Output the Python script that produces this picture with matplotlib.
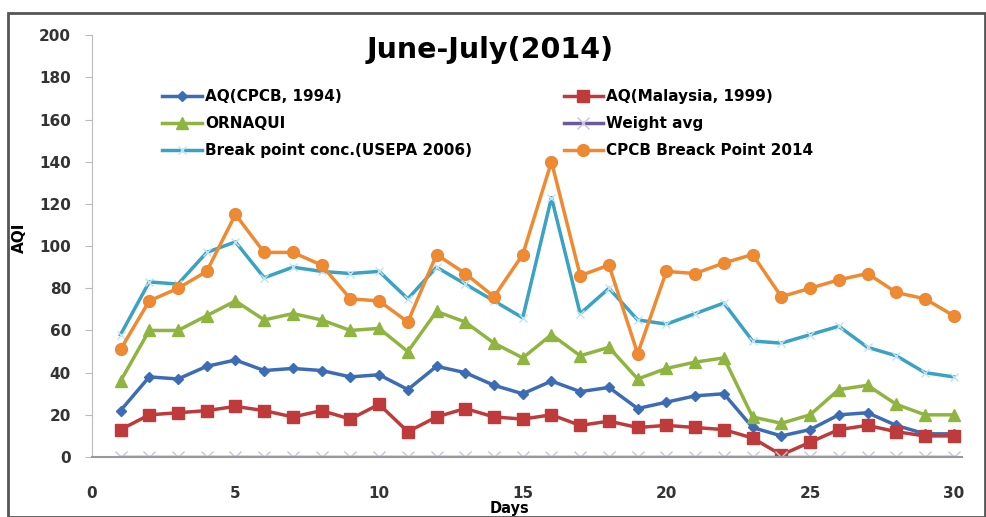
import numpy as np
import matplotlib.pyplot as plt
from matplotlib.patches import Rectangle

days = np.arange(1, 31)

aq_cpcb = [22, 38, 37, 43, 46, 41, 42, 41, 38, 39, 32, 43, 40, 34, 30,
           36, 31, 33, 23, 26, 29, 30, 14, 10, 13, 20, 21, 15, 11, 11]
aq_malaysia = [13, 20, 21, 22, 24, 22, 19, 22, 18, 25, 12, 19, 23, 19, 18,
               20, 15, 17, 14, 15, 14, 13, 9, 1, 7, 13, 15, 12, 10, 10]
ornaqui = [36, 60, 60, 67, 74, 65, 68, 65, 60, 61, 50, 69, 64, 54, 47,
           58, 48, 52, 37, 42, 45, 47, 19, 16, 20, 32, 34, 25, 20, 20]
weight_avg = [0] * 30
usepa = [58, 83, 82, 97, 102, 85, 90, 88, 87, 88, 75, 90, 82, 74, 66,
         123, 68, 80, 65, 63, 68, 73, 55, 54, 58, 62, 52, 48, 40, 38]
cpcb_2014 = [51, 74, 80, 88, 115, 97, 97, 91, 75, 74, 64, 96, 87, 76, 96,
             140, 86, 91, 49, 88, 87, 92, 96, 76, 80, 84, 87, 78, 75, 67]

fig = plt.figure(figsize=(9.87, 5.17), dpi=100)
ax = fig.add_axes([0.093, 0.116, 0.882, 0.816])

# outer frame like the scanned figure
fig.patches.append(Rectangle((0.008, 0.0), 0.99, 0.975, transform=fig.transFigure,
                             fill=False, edgecolor='#555555', lw=2))

l1, = ax.plot(days, aq_cpcb, color='#3b6cb4', marker='D', markersize=5.5, lw=2.5,
              label='AQ(CPCB, 1994)')
l2, = ax.plot(days, aq_malaysia, color='#bf3a3a', marker='s', markersize=8, lw=2.5,
              label='AQ(Malaysia, 1999)')
l3, = ax.plot(days, ornaqui, color='#8fb540', marker='^', markersize=8.5, lw=2.5,
              label='ORNAQUI')
l4, = ax.plot(days, weight_avg, color='#6a5a9c', marker='x', markersize=8, lw=2.5,
              markeredgecolor='#c8c0dc', label='Weight avg')
l5, = ax.plot(days, usepa, color='#3aa3c4', marker='x', markersize=6, lw=2.5,
              markeredgecolor='#bfe4f0', label='Break point conc.(USEPA 2006)')
l6, = ax.plot(days, cpcb_2014, color='#f08a30', marker='o', markersize=8.5, lw=2.5,
              markeredgecolor='#e8893a', label='CPCB Breack Point 2014')

ax.set_xlim(0, 30.3)
ax.set_ylim(0, 200)
ax.set_xticks([0, 5, 10, 15, 20, 25, 30])
ax.set_yticks(np.arange(0, 201, 20))
ax.tick_params(axis='x', length=0, labelsize=11, pad=21, labelcolor='#333333')
ax.tick_params(axis='y', length=5, color='#bbbbbb', labelsize=11, pad=10,
               labelcolor='#333333')
for lab in ax.get_xticklabels() + ax.get_yticklabels():
    lab.set_fontweight('bold')

for s in ['top', 'right']:
    ax.spines[s].set_visible(False)
ax.spines['left'].set_color('#bbbbbb')
ax.spines['bottom'].set_color('#999999')
ax.spines['bottom'].set_linewidth(1.5)

ax.set_title('June-July(2014)', fontsize=20.5, fontweight='bold', y=0.925, x=0.457)
ax.set_xlabel('Days', fontsize=10.5, fontweight='bold', labelpad=0, x=0.48)
ax.set_ylabel('AQI', fontsize=11, fontweight='bold')
ax.yaxis.set_label_coords(-0.075, 0.52)

ax.legend([l1, l3, l5, l2, l4, l6],
          [l.get_label() for l in [l1, l3, l5, l2, l4, l6]],
          ncol=2, loc='upper left', bbox_to_anchor=(0.065, 0.905), frameon=False,
          columnspacing=6.0, handlelength=2.6, handletextpad=0.2,
          labelspacing=0.8, prop={'weight': 'bold', 'size': 11})

fig.savefig('out.png', dpi=100)
